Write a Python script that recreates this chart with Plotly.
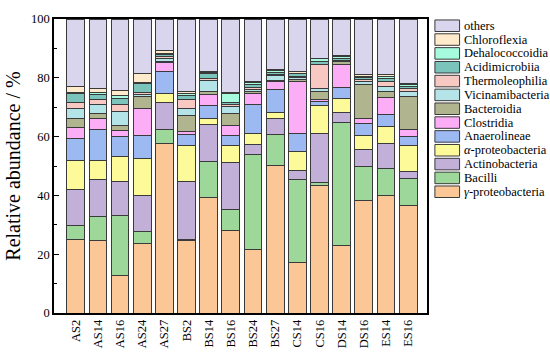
import plotly.graph_objects as go

samples = ["AS2", "AS14", "AS16", "AS24", "AS27", "BS2", "BS14", "BS16",
           "BS24", "BS27", "CS14", "CS16", "DS14", "DS16", "ES14", "ES16"]

# series values (% relative abundance), bottom to top
gamma_proteobacteria = [25.1, 24.5, 12.7, 23.6, 57.6, 24.5, 39.3, 28.1, 21.5, 50.2, 17.2, 43.4, 22.8, 38.3, 40.1, 36.6]
bacilli              = [4.5, 8.2, 20.5, 4.2, 4.9, 0.6, 12.3, 7.2, 32.5, 10.5, 28.2, 0.9, 42.1, 11.6, 9.1, 9.3]
actinobacteria       = [12.4, 12.8, 11.4, 12.2, 9.1, 19.7, 12.6, 16.0, 3.3, 5.3, 3.1, 16.6, 3.3, 5.7, 8.6, 2.4]
alpha_proteobacteria = [9.8, 6.5, 8.8, 12.5, 2.9, 12.1, 2.1, 5.7, 3.6, 2.2, 6.4, 9.8, 4.7, 4.9, 5.5, 8.7]
anaerolineae         = [7.4, 10.5, 6.7, 7.9, 7.7, 3.9, 4.4, 3.5, 10.1, 7.8, 6.0, 1.3, 3.9, 3.9, 4.1, 3.2]
clostridia           = [3.8, 3.7, 2.1, 9.0, 2.9, 0.9, 3.5, 3.3, 3.5, 2.9, 17.7, 0.7, 7.6, 1.7, 6.0, 2.1]
bacteroidia          = [3.1, 1.8, 1.6, 4.4, 0.4, 5.4, 1.2, 4.2, 0.9, 0.2, 0.9, 2.7, 1.2, 11.7, 1.9, 11.3]
vicinamibacteria     = [3.6, 3.0, 4.9, 0.4, 1.1, 2.5, 3.7, 2.1, 0.6, 1.7, 0.5, 1.0, 0.2, 0.8, 1.7, 1.8]
thermoleophilia      = [1.8, 1.6, 2.1, 0.9, 0.5, 3.0, 0.7, 0.8, 0.7, 0.3, 0.5, 8.0, 0.2, 0.9, 1.6, 1.0]
acidimicrobiia       = [3.3, 1.8, 2.2, 3.0, 0.9, 1.4, 1.8, 0.7, 1.1, 0.8, 0.8, 1.3, 0.6, 0.5, 1.1, 0.6]
dehalococcoidia      = [0.2, 0.5, 1.1, 0.2, 0.4, 0.8, 0.3, 3.0, 0.6, 0.6, 0.3, 0.9, 0.7, 0.5, 0.8, 0.6]
chloroflexia         = [2.0, 1.3, 1.5, 3.1, 0.9, 0.5, 0.2, 0.3, 0.3, 0.2, 0.4, 0.1, 0.2, 0.6, 0.5, 0.3]
others               = [23.0, 23.8, 24.4, 18.6, 10.7, 24.7, 17.9, 25.1, 21.3, 17.3, 18.0, 13.3, 12.5, 18.9, 19.0, 22.1]

series_names = ["<i>γ</i>-proteobacteria", "Bacilli", "Actinobacteria", "<i>α</i>-proteobacteria",
                "Anaerolineae", "Clostridia", "Bacteroidia", "Vicinamibacteria", "Thermoleophilia",
                "Acidimicrobiia", "Dehalococcoidia", "Chloroflexia", "others"]
series_values = [gamma_proteobacteria, bacilli, actinobacteria, alpha_proteobacteria, anaerolineae,
                 clostridia, bacteroidia, vicinamibacteria, thermoleophilia, acidimicrobiia,
                 dehalococcoidia, chloroflexia, others]
colors = ["#FCC797", "#9DD79A", "#C2B0D9", "#FDFA9A", "#9DB9F2", "#FBADF5", "#B0B48F",
          "#B4E3E8", "#F8C9C3", "#7AC4BC", "#A6FADD", "#FFEACB", "#D8D5EC"]

FONT = "Liberation Serif"
W, H = 550, 360
L, R, T, B = 49, 427, 13, 319  # plot area in pixels

fig = go.Figure()
for name, vals, col in zip(series_names, series_values, colors):
    fig.add_trace(go.Bar(x=samples, y=vals, name=name, width=0.8,
                         marker=dict(color=col, line=dict(color="#3a3a3a", width=1)),
                         showlegend=False))

# custom legend (drawn in paper coordinates)
def px2paper_x(px):
    return (px - L) / (R - L)

def px2paper_y(py):
    return (B - py) / (B - T)

shapes = []
annotations = []
legend_order = list(range(len(series_names)))[::-1]
y0 = 20.0
dy = 14.4
for k, idx in enumerate(legend_order):
    cy = y0 + k * dy
    shapes.append(dict(type="rect", xref="paper", yref="paper",
                       x0=px2paper_x(435), x1=px2paper_x(460),
                       y0=px2paper_y(cy + 6), y1=px2paper_y(cy - 6),
                       fillcolor=colors[idx], line=dict(color="#3a3a3a", width=1)))
    annotations.append(dict(xref="paper", yref="paper", x=px2paper_x(462), y=px2paper_y(cy),
                            text=series_names[idx], showarrow=False, xanchor="left", yanchor="middle",
                            font=dict(family=FONT, size=12.5, color="black")))

fig.update_layout(
    barmode="stack",
    width=W, height=H,
    margin=dict(l=L, r=W - R, t=T, b=H - B),
    paper_bgcolor="white", plot_bgcolor="white",
    font=dict(family=FONT, size=12.5, color="black"),
    bargap=0.2,
    shapes=shapes,
    annotations=annotations,
)
fig.update_xaxes(range=[-0.98, 15.85], tickangle=-90, showline=True, linecolor="black",
                 linewidth=1.5, mirror=True, ticks="", showgrid=False,
                 tickfont=dict(family=FONT, size=12.5))
fig.update_yaxes(range=[0, 100], dtick=20, showline=True, linecolor="black", linewidth=1.5,
                 mirror=True, ticks="inside", ticklen=5, tickwidth=1, tickcolor="black",
                 showgrid=False, zeroline=False,
                 minor=dict(dtick=10, ticks="inside", ticklen=3, tickcolor="black"),
                 tickfont=dict(family=FONT, size=12.5),
                 title=dict(text="Relative abundance / %", font=dict(family=FONT, size=20), standoff=5))

fig.write_html("out.html",
               config={"displayModeBar": False},
               post_script="document.body.style.margin='0px';document.body.style.overflow='hidden';")
